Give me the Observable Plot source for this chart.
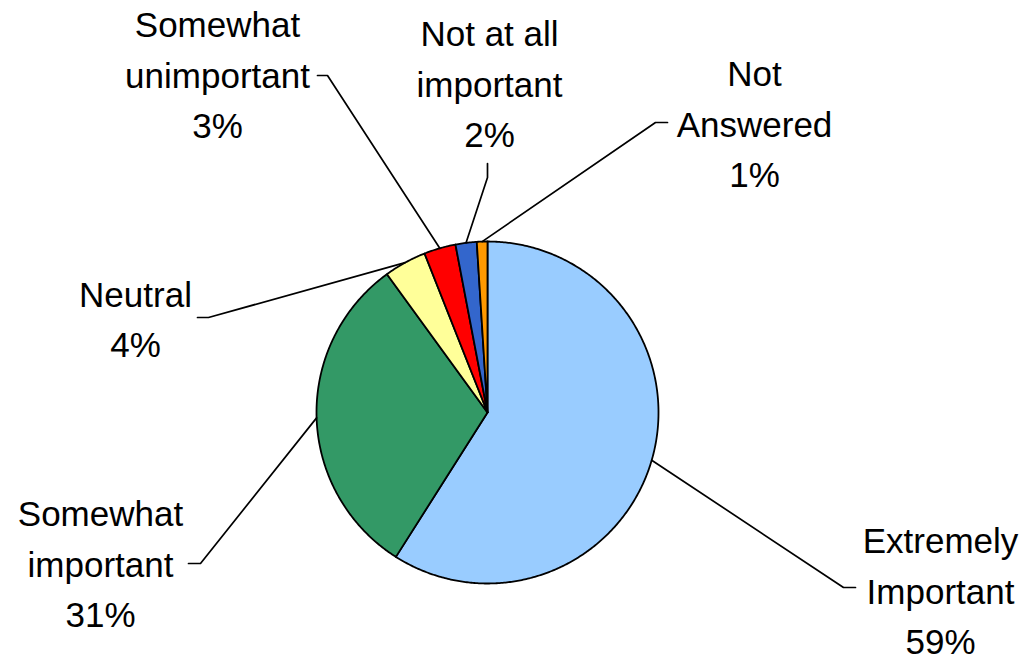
<!DOCTYPE html>
<html>
<head>
<meta charset="utf-8">
<script src="https://cdn.jsdelivr.net/npm/d3@7"></script>
<script src="https://cdn.jsdelivr.net/npm/@observablehq/plot@0.6"></script>
<style>
  html, body { margin: 0; padding: 0; background: #ffffff; }
</style>
</head>
<body>
<div id="chart"></div>
<script>
// Survey responses: how important is it?
const categories = [
  "Extremely\nImportant",
  "Somewhat\nimportant",
  "Neutral",
  "Somewhat\nunimportant",
  "Not at all\nimportant",
  "Not\nAnswered"
];
const shares = [59, 31, 4, 3, 2, 1];
const sliceColors = ["#99ccff", "#339966", "#ffff99", "#ff0000", "#3366cc", "#ff9900"];

// Layout of the drawing area (pixel-like units)
const W = 1024, H = 656;
const center = [487, 412];
const radius = 171;
const fontSize = 35;

// Label block centres and the bend/end points of each leader line
const labelAnchors = [[940, 587], [100, 560], [135, 315], [217, 71], [489, 80], [754, 120]];
const leaderBends = [
  [[843, 587], [855, 587]],
  [[200, 563], [188, 563]],
  [[208, 317], [197, 317]],
  [[327, 75], [317, 75]],
  [[487, 177], [487, 163]],
  [[655, 122], [667, 122]]
];

const rows = categories.map((name, i) => ({name, share: shares[i], color: sliceColors[i], i}));
const arcs = d3.pie().sort(null).value(d => d.share)(rows);

const onCircle = a => ({x: center[0] + radius * Math.sin(a), y: center[1] - radius * Math.cos(a)});

// Each slice as a closed outline: centre -> arc -> centre
const slices = arcs.map(a => {
  const steps = Math.max(2, Math.ceil((a.endAngle - a.startAngle) / (Math.PI / 360)));
  const pts = [{x: center[0], y: center[1]}];
  for (let k = 0; k <= steps; k++) {
    pts.push(onCircle(a.startAngle + (a.endAngle - a.startAngle) * k / steps));
  }
  pts.push({x: center[0], y: center[1]});
  return {color: a.data.color, pts};
});

// Leader lines start on the rim at the middle of each slice
const leaders = arcs.map((a, i) => {
  const start = onCircle((a.startAngle + a.endAngle) / 2);
  return [start, ...leaderBends[i].map(([x, y]) => ({x, y}))];
});

const labels = arcs.map((a, i) => ({
  x: labelAnchors[i][0],
  y: labelAnchors[i][1],
  text: `${a.data.name}\n${a.data.share}%`
}));

const chart = Plot.plot({
  width: W,
  height: H,
  margin: 0,
  x: {domain: [0, W], range: [0, W], axis: null},
  y: {domain: [0, H], range: [0, H], axis: null},
  style: {fontFamily: "'Liberation Sans', Arial, sans-serif", background: "#ffffff"},
  marks: [
    ...slices.map(s => Plot.line(s.pts, {
      x: "x", y: "y", fill: s.color, stroke: "#000000", strokeWidth: 1.8, strokeLinejoin: "round"
    })),
    ...leaders.map(l => Plot.line(l, {
      x: "x", y: "y", stroke: "#000000", strokeWidth: 1.7
    })),
    Plot.text(labels, {
      x: "x", y: "y", text: "text",
      fontSize, lineHeight: 1.43, textAnchor: "middle", fill: "#000000"
    })
  ]
});

document.getElementById("chart").appendChild(chart);
</script>
</body>
</html>
